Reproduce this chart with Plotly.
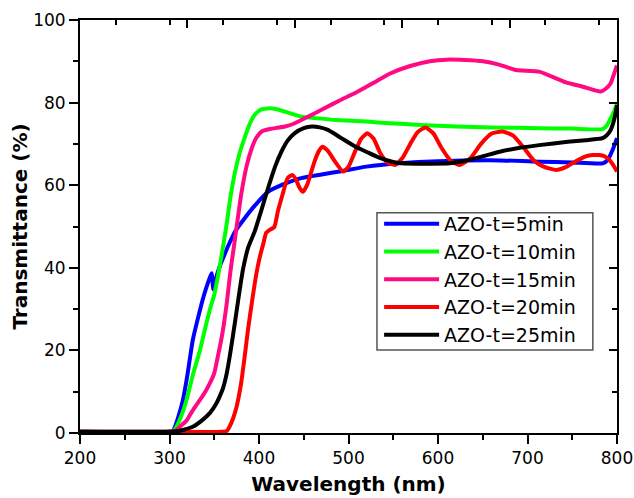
import plotly.graph_objects as go

# Transmittance spectra of AZO films
wl_5 = [200, 300, 304, 310, 315, 320, 326, 332, 338, 344, 347, 349, 352, 356, 362, 367, 374,
        384, 395, 410, 425, 447, 470, 492, 520, 557, 600, 669, 713, 750, 784, 790, 795, 800]
t_5 = [0.3, 0.3, 0.5, 4, 8, 14, 22.5, 28, 33, 37, 38.7, 34.8, 37.5, 40.3, 43.5, 46, 49,
       52, 55, 58.4, 60, 61.7, 62.6, 63.4, 64.5, 65.3, 65.8, 66, 65.7, 65.5, 65.3, 66.2, 68.5, 71.4]

wl_10 = [200, 300, 305, 312, 319, 326, 334, 340, 345, 350, 354, 359, 364, 368, 373, 378, 384,
         389, 395, 402, 410, 420, 429, 447, 465, 485, 520, 546, 580, 620, 660, 713, 750, 784,
         789, 793, 797, 800]
t_10 = [0.3, 0.3, 0.6, 3.5, 8, 14, 20, 25.5, 29.8, 33.5, 37.8, 44, 50.8, 57, 63, 67.5, 71.5,
        74.5, 77, 78.3, 78.6, 78.4, 77.8, 76.6, 76.2, 75.8, 75.4, 75, 74.6, 74.2, 74, 73.8, 73.7,
        73.6, 74.6, 76.2, 78, 79.8]

wl_15 = [200, 300, 307, 313, 319, 326, 334, 340, 345, 350, 354, 359, 364, 368, 373, 380, 386,
         392, 397, 403, 412, 420, 429, 440, 455, 472, 490, 509, 528, 546, 568, 591, 610, 630,
         650, 668, 687, 713, 743, 761, 775, 782, 787, 793, 796, 800]
t_15 = [0.3, 0.3, 0.6, 1.8, 3, 5.5, 8, 10, 12, 14.5, 18.5, 24, 31.5, 39, 46.7, 57.6, 64.5,
        69, 71.5, 73, 73.6, 73.9, 74.2, 75, 76.6, 78.5, 80.5, 82.5, 84.8, 87, 88.8, 90, 90.4,
        90.3, 90, 89.2, 87.9, 87.5, 84.9, 83.9, 83, 82.7, 83.3, 84.7, 86.5, 89]

wl_20 = [200, 300, 364, 367, 371, 375, 380, 384, 388, 393, 397, 401, 405, 408, 412, 417, 421,
         426, 432, 437, 441, 445, 449, 454, 462, 467, 471, 477, 485, 494, 500, 507, 514, 521,
         528, 535, 543, 552, 560, 569, 577, 586, 595, 604, 614, 624, 636, 648, 660, 672, 684,
         696, 707, 718, 732, 742, 754, 765, 773, 780, 786, 792, 796, 800]
t_20 = [0.3, 0.3, 0.5, 1.5, 3.5, 6.4, 12, 18.5, 25.5, 33, 38.5, 42.7, 46, 48.5, 49.2, 49.8, 53.6,
        57.5, 61.7, 62.5, 61.5, 59.5, 58.4, 60.2, 65.7, 68.3, 69.3, 68.3, 65.7, 63.3, 64.5, 68, 71.2,
        72.6, 71.3, 68, 65.6, 64.9, 66.5, 70, 72.8, 74, 72.5, 69, 66, 64.9, 66.5, 70, 72.5, 73, 72,
        69, 66, 64.5, 63.7, 64.3, 65.8, 67, 67.3, 67.3, 67, 66, 64.8, 63.3]

wl_25 = [200, 300, 308, 316, 326, 336, 345, 352, 356, 360, 364, 368, 373, 378, 382, 388, 395,
         402, 410, 418, 425, 432, 440, 450, 459, 468, 477, 492, 508, 520, 535, 550, 560, 575, 590,
         613, 630, 650, 669, 690, 713, 745, 765, 784, 789, 793, 797, 800]
t_25 = [0.3, 0.3, 0.4, 0.8, 1.5, 3, 4.8, 7, 8.8, 11, 14.5, 19.5, 26.6, 34, 39.5, 45, 48.7,
        53.5, 59.2, 64.5, 68.1, 70.8, 72.6, 73.8, 74.2, 74, 73.4, 71.4, 69.3, 68.1, 66.6, 65.6,
        65.3, 65.2, 65.2, 65.3, 65.9, 67, 68.1, 69, 69.7, 70.5, 70.9, 71.4, 72.2, 73.4, 76, 79.4]

series = [
    ('AZO-t=5min', wl_5, t_5, '#0000ff'),
    ('AZO-t=10min', wl_10, t_10, '#00ff00'),
    ('AZO-t=15min', wl_15, t_15, '#ff0a85'),
    ('AZO-t=20min', wl_20, t_20, '#ff0000'),
    ('AZO-t=25min', wl_25, t_25, '#000000'),
]

fig = go.Figure()

for name, x, y, color in series:
    fig.add_trace(go.Scatter(
        x=x, y=y, mode='lines', name=name,
        line=dict(color=color, width=4, shape='spline', smoothing=0.5)
    ))

# empty trace so that the top/right frame axes get drawn
fig.add_trace(go.Scatter(x=[], y=[], xaxis='x2', yaxis='y2', showlegend=False, hoverinfo='skip'))

font_main = dict(family='DejaVu Sans, Liberation Sans, Arial, sans-serif', size=17, color='black')

fig.update_layout(
    width=634, height=498,
    margin=dict(l=80, r=17, t=20, b=65),
    plot_bgcolor='white', paper_bgcolor='white',
    font=font_main,
    xaxis=dict(
        range=[200, 800], tick0=200, dtick=100, automargin=False,
        ticks='outside', ticklen=9, tickwidth=2, tickcolor='black',
        minor=dict(ticks='outside', ticklen=5, tickwidth=2, dtick=50, tickcolor='black'),
        showline=True, linewidth=2, linecolor='black', showgrid=False, zeroline=False,
        title=dict(text='<b>Wavelength (nm)</b>', font=dict(size=20), standoff=10),
    ),
    yaxis=dict(
        range=[0, 100], tick0=0, dtick=20, automargin=False,
        ticks='outside', ticklen=9, tickwidth=2, tickcolor='black',
        minor=dict(ticks='outside', ticklen=5, tickwidth=2, dtick=10, tickcolor='black'),
        showline=True, linewidth=2, linecolor='black', showgrid=False, zeroline=False,
        title=dict(text='<b>Transmittance (%)</b>', font=dict(size=20), standoff=0),
    ),
    xaxis2=dict(
        overlaying='x', side='top', range=[200, 800], tick0=200, dtick=120, automargin=False,
        ticks='inside', ticklen=8, tickwidth=1.5, tickcolor='black',
        minor=dict(ticks='inside', ticklen=5, tickwidth=1.5, dtick=60, tickcolor='black'),
        showticklabels=False, showline=True, linewidth=1.5, linecolor='black',
        showgrid=False, zeroline=False,
    ),
    yaxis2=dict(
        overlaying='y', side='right', range=[0, 100], tick0=0, dtick=20, automargin=False,
        ticks='inside', ticklen=8, tickwidth=1.5, tickcolor='black',
        minor=dict(ticks='inside', ticklen=5, tickwidth=1.5, dtick=10, tickcolor='black'),
        showticklabels=False, showline=True, linewidth=1.5, linecolor='black',
        showgrid=False, zeroline=False,
    ),
    legend=dict(
        x=0.557, y=0.552, xanchor='left', yanchor='top',
        borderwidth=0, bgcolor='rgba(0,0,0,0)',
        font=dict(size=19), itemwidth=55, tracegroupgap=0,
    ),
)

# legend frame, drawn separately so it can be tighter than plotly's padding
fig.add_shape(type='rect', xref='paper', yref='paper',
              x0=0.553, x1=0.955, y0=0.201, y1=0.533,
              line=dict(color='#555555', width=1.5), fillcolor='rgba(0,0,0,0)')

fig.write_html("out.html", config={'displayModeBar': False},
               post_script="document.body.style.margin='0';")
